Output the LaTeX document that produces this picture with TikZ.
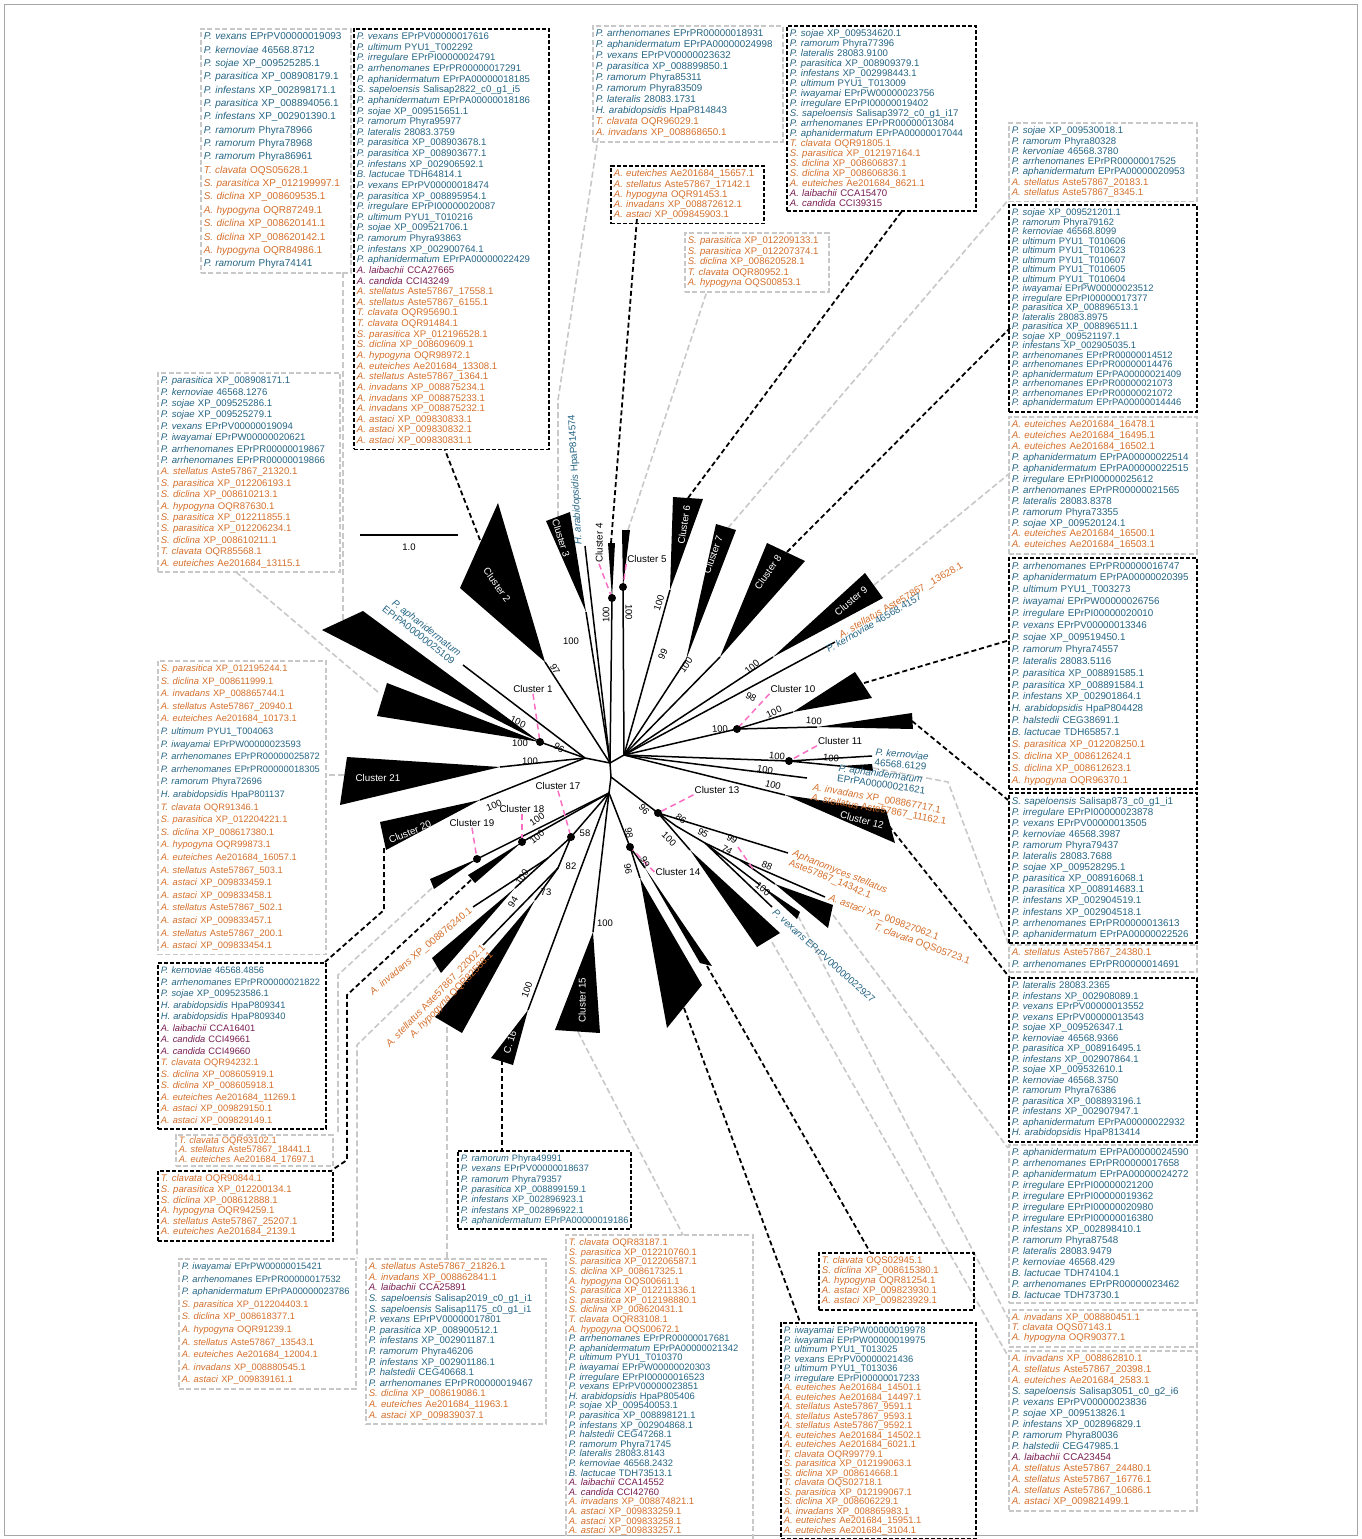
\documentclass[tikz,border=0pt]{standalone}
\usepackage{fontspec}
\setmainfont{Liberation Sans}
\usetikzlibrary{calc}
\definecolor{peroblue}{RGB}{36,100,132}
\definecolor{saprorange}{RGB}{212,110,42}
\definecolor{albupurple}{RGB}{120,28,80}
\definecolor{pinkc}{RGB}{250,110,195}
\definecolor{boxgrey}{RGB}{200,200,200}
\newcommand{\pero}[2]{\mbox{\color{peroblue}\textit{#1} #2}}
\newcommand{\sapr}[2]{\mbox{\color{saprorange}\textit{#1} #2}}
\newcommand{\albu}[2]{\mbox{\color{albupurple}\textit{#1} #2}}
\tikzset{
  br/.style={line width=1.5pt},
  clin/.style={text=white,font=\fontsize{9.8}{11}\selectfont,inner sep=0pt},
  clout/.style={font=\fontsize{9.8}{11}\selectfont,inner sep=1pt},
  bs/.style={font=\fontsize{9.5}{11}\selectfont,inner sep=0pt},
  dot/.style={circle,fill=black,minimum size=8pt,inner sep=0pt},
  pk/.style={draw=pinkc,line width=1.5pt,dash pattern=on 6pt off 4pt},
  kcon/.style={draw=black,line width=1.8pt,dash pattern=on 5pt off 3pt},
  gcon/.style={draw=boxgrey,line width=1.6pt,dash pattern=on 6pt off 3pt},
  lst/.style n args={3}{anchor=north west,align=left,inner xsep=3pt,inner ysep=4pt,
    text width=#1,font=\fontsize{#2}{#3}\selectfont},
  kbox/.style n args={3}{lst={#1}{#2}{#3},draw=black,line width=1.8pt,dash pattern=on 4pt off 2pt},
  gbox/.style n args={3}{lst={#1}{#2}{#3},draw=boxgrey,line width=1.6pt,dash pattern=on 5pt off 2.5pt},
  leaf/.style={font=\fontsize{9.8}{10.4}\selectfont,inner sep=0pt},
}

\begin{document}
\begin{tikzpicture}[x=1pt,y=-1pt]
\useasboundingbox (0,0) rectangle (1361,1539);
\draw[gray!70,line width=0.8pt] (4,4) rectangle (1357,1535);

% connectors to the lists
\foreach \i/\ax/\ay/\bx/\by in {1/343/620/343/272,2/378/692/236/572,3/344/775/325/775,
  4/628/530/707/291,5/728/528/1010/198,6/874/585/1010/473,7/833/915/1008/1148,
  8/798/916/1008/1318,9/772/942/1008/1356,10/578/1032/683/1235,11/447/1027/447/1258}{
  \coordinate (ga\i) at (\ax,\ay);
  \coordinate (gb\i) at (\bx,\by);
  \draw[gcon] (ga\i) -- (gb\i);
}
\coordinate (ga12) at (558,517); \coordinate (gk12) at (558,400); \coordinate (gb12) at (598,138);
\coordinate (ga13) at (873,768); \coordinate (gk13) at (948,782); \coordinate (gb13) at (1010,948);
\coordinate (ga14) at (432,888); \coordinate (gk14) at (338,975); \coordinate (gb14) at (338,1134);
\coordinate (ga15) at (437,967); \coordinate (gk15) at (357,1045); \coordinate (gb15) at (357,1258);
\draw[gcon] (ga12) -- (gk12) -- (gb12);
\draw[gcon] (ga13) -- (gk13) -- (gb13);
\draw[gcon] (ga14) -- (gk14) -- (gb14);
\draw[gcon] (ga15) -- (gk15) -- (gb15);

\foreach \i/\ax/\ay/\bx/\by in {1/480/540/445/450,2/611/543/637/218,3/688/498/902/211,
  4/787/552/1010/328,5/864/683/1010/640,6/912/721/1008/800,7/889/826/1010/978,
  8/684/1008/800/1322,9/707/966/870/1252,10/502/1060/502/1150}{
  \coordinate (ka\i) at (\ax,\ay);
  \coordinate (kb\i) at (\bx,\by);
  \draw[kcon] (ka\i) -- (kb\i);
}
\coordinate (ka11) at (471,880); \coordinate (kk11) at (347,995); \coordinate (kl11) at (347,1160); \coordinate (kb11) at (332,1170);
\coordinate (ka12) at (384,848); \coordinate (kk12) at (384,910); \coordinate (kb12) at (325,962);
\draw[kcon] (ka11) -- (kk11) -- (kl11) -- (kb11);
\draw[kcon] (ka12) -- (kk12) -- (kb12);

% tree
\coordinate (hL) at (610,763); \coordinate (hR) at (624,755);
\coordinate (hC) at (611,777); \coordinate (hD) at (609,793); \coordinate (n1) at (585,758);
\coordinate (c1u1) at (322,630); \coordinate (c1u2) at (363,611); \coordinate (d1) at (540,742);
\coordinate (c1l1) at (387,683); \coordinate (c1l2) at (377,716); \coordinate (aph) at (463,665);
\coordinate (c2a) at (545,662); \coordinate (c2b) at (498,503); \coordinate (c2c) at (460,588);
\coordinate (c3a) at (586,612); \coordinate (c3b) at (546,521); \coordinate (c3c) at (570,512);
\coordinate (hpa) at (585,546);
\coordinate (d4) at (612,598); \coordinate (c4b) at (608,543); \coordinate (c4c) at (615,543);
\coordinate (d5) at (623,587); \coordinate (c5b) at (622,530); \coordinate (c5c) at (630,530);
\coordinate (c6a) at (670,590); \coordinate (c6b) at (673,497); \coordinate (c6c) at (703,499);
\coordinate (c7a) at (686,660); \coordinate (c7b) at (716,524); \coordinate (c7c) at (736,530);
\coordinate (c8a) at (720,657); \coordinate (c8b) at (767,543); \coordinate (c8c) at (805,561);
\coordinate (c9a) at (773,657); \coordinate (c9b) at (865,573); \coordinate (c9c) at (883,598);
\coordinate (lf9) at (835,642);
\coordinate (d10) at (737,729); \coordinate (c10ua) at (793,712); \coordinate (c10ub) at (855,672);
\coordinate (c10uc) at (872,698); \coordinate (c10la) at (817,727); \coordinate (c10lb) at (912,713);
\coordinate (c10lc) at (913,729);
\coordinate (d11) at (789,761); \coordinate (lf11) at (872,756); \coordinate (c11a) at (840,766);
\coordinate (c11b) at (872,764); \coordinate (c11c) at (873,771);
\coordinate (lf12) at (807,778);
\coordinate (c12a) at (785,795); \coordinate (c12b) at (886,810); \coordinate (c12c) at (895,843);
\coordinate (d13) at (658,813); \coordinate (lf13) at (788,853); \coordinate (n13a) at (676,826);
\coordinate (c13ba) at (690,850); \coordinate (c13bb) at (780,933); \coordinate (c13bc) at (757,947);
\coordinate (n13b) at (705,843); \coordinate (lf13v) at (772,907);
\coordinate (c13ta) at (760,885); \coordinate (c13tb) at (800,912); \coordinate (c13tc) at (797,919);
\coordinate (n13c) at (740,860); \coordinate (lf13a) at (825,897);
\coordinate (c13sa) at (775,884); \coordinate (c13sb) at (833,905); \coordinate (c13sc) at (828,928);
\coordinate (d14) at (630,847); \coordinate (c14ba) at (640,878); \coordinate (c14bb) at (702,985);
\coordinate (c14bc) at (667,1028); \coordinate (c14ta) at (645,868); \coordinate (c14tb) at (700,963);
\coordinate (c14tc) at (712,966);
\coordinate (c15a) at (593,932); \coordinate (c15b) at (600,1033); \coordinate (c15c) at (555,1030);
\coordinate (c16a) at (528,1010); \coordinate (c16b) at (513,1065); \coordinate (c16c) at (491,1058);
\coordinate (d17) at (571,837); \coordinate (n17a) at (548,858); \coordinate (lf17) at (473,907);
\coordinate (c17ta) at (515,888); \coordinate (c17tb) at (441,973); \coordinate (c17tc) at (432,958);
\coordinate (n17b) at (558,868); \coordinate (lf17b) at (483,945);
\coordinate (c17ba) at (535,900); \coordinate (c17bb) at (462,1033); \coordinate (c17bc) at (435,1017);
\coordinate (d18) at (522,842); \coordinate (c18b) at (468,875); \coordinate (c18c) at (475,883);
\coordinate (d19) at (477,859); \coordinate (c19b) at (430,879); \coordinate (c19c) at (434,889);
\coordinate (c20a) at (480,800); \coordinate (c20b) at (380,822); \coordinate (c20c) at (386,850);
\coordinate (c21a) at (500,767); \coordinate (c21b) at (347,757); \coordinate (c21c) at (340,805);

\draw[br] (n1) -- (hL) -- (hR) (hL) -- (hC) -- (hD);
\foreach \t in {c2a,c3a,hpa,d4} \draw[br] (hL) -- (\t);
\foreach \t in {d5,c6a,c7a,c8a,c9a,lf9,d10,d11,lf12,c12a} \draw[br] (hR) -- (\t);
\foreach \t in {d1,aph,c21a,c20a} \draw[br] (n1) -- (\t);
\foreach \t in {d14,c15a,c16a,d17,d18,d19} \draw[br] (hD) -- (\t);
\draw[br] (hC) -- (d13);
\draw[br] (c10ua) -- (d10) -- (c10la);
\draw[br] (lf11) -- (d11) -- (c11a);
\draw[br] (lf13) -- (d13) -- (n13a) -- (n13b) -- (n13c) -- (lf13a);
\draw[br] (d13) -- (c13ba) (n13b) -- (lf13v) (n13b) -- (c13ta) (n13c) -- (c13sa);
\draw[br] (c14ba) -- (d14) -- (c14ta);
\draw[br] (lf17) -- (n17a) -- (d17) -- (n17b) -- (lf17b);
\draw[br] (n17a) -- (c17ta) (n17b) -- (c17ba);

\foreach \a/\b/\c in {c1u1/c1u2/d1,c1l1/c1l2/d1,c2a/c2b/c2c,c3a/c3b/c3c,d4/c4b/c4c,d5/c5b/c5c,
  c6a/c6b/c6c,c7a/c7b/c7c,c8a/c8b/c8c,c9a/c9b/c9c,c10ua/c10ub/c10uc,c10la/c10lb/c10lc,
  c11a/c11b/c11c,c12a/c12b/c12c,c13ba/c13bb/c13bc,c13ta/c13tb/c13tc,c13sa/c13sb/c13sc,
  c14ba/c14bb/c14bc,c14ta/c14tb/c14tc,c15a/c15b/c15c,c16a/c16b/c16c,c17ta/c17tb/c17tc,
  c17ba/c17bb/c17bc,d18/c18b/c18c,d19/c19b/c19c,c20a/c20b/c20c,c21a/c21b/c21c}
  \fill (\a) -- (\b) -- (\c) -- cycle;

% clusters
\node[clin,rotate=-55] (lc2) at (497,585) {Cluster 2};
\node[clin,rotate=-73] (lc3) at (561,538) {Cluster 3};
\node[clin,rotate=81] (lc6) at (684,525) {Cluster 6};
\node[clin,rotate=70] (lc7) at (713,555) {Cluster 7};
\node[clin,rotate=55] (lc8) at (768,572) {Cluster 8};
\node[clin,rotate=40] (lc9) at (851,601) {Cluster 9};
\node[clin,rotate=-15] (lc12) at (862,820) {Cluster 12};
\node[clin,rotate=90] (lc15) at (582,1000) {Cluster 15};
\node[clin,rotate=72] (lc16) at (510,1042) {C. 16};
\node[clin,rotate=22] (lc20) at (410,832) {Cluster 20};
\node[clin] (lc21) at (378,778) {Cluster 21};
\node[clout] (lc1) at (533,689) {Cluster 1};
\node[clout,rotate=90] (lc4) at (599,543) {Cluster 4};
\node[clout] (lc5) at (647,559) {Cluster 5};
\node[clout] (lc10) at (793,689) {Cluster 10};
\node[clout] (lc11) at (840,741) {Cluster 11};
\node[clout] (lc13) at (717,790) {Cluster 13};
\node[clout] (lc14) at (678,872) {Cluster 14};
\node[clout] (lc17) at (558,786) {Cluster 17};
\node[clout] (lc18) at (522,809) {Cluster 18};
\node[clout] (lc19) at (472,823) {Cluster 19};
\coordinate (p13a) at (738,847); \coordinate (p13b) at (755,872);
\draw[pk] (lc1.south) -- (d1);
\draw[pk] (lc4.west) -- (d4);
\draw[pk] (lc5.south west) -- (d5);
\draw[pk] (lc10.south west) -- (d10);
\draw[pk] (lc11.south west) -- (d11);
\draw[pk] (lc13.south west) -- (d13);
\draw[pk] (p13a) -- (p13b);
\draw[pk] (lc14.west) -- (d14);
\draw[pk] (lc17.south) -- (d17);
\draw[pk] (lc18.south) -- (d18);
\draw[pk] (lc19.south) -- (d19);
\foreach \p in {d1,d4,d5,d10,d11,d13,d14,d17,d18,d19} \node[dot] (dot-\p) at (\p) {};

% support values
\foreach \x/\y/\a/\v [count=\i] in {518/722/-25/100,520/743/0/100,559/748/-35/96,555/669/-60/97,
  571/641/0/100,606/615/90/100,629/612/-90/100,659/603/72/100,663/654/65/99,686/665/55/100,
  752/667/40/100,751/697/-30/98,720/729/5/100,774/712/25/100,814/721/-3/100,777/756/-5/100,
  831/758/-5/100,765/770/-10/100,773/785/-15/100,644/809/-50/96,681/819/-35/86,669/839/-45/100,
  703/833/-30/95,732/839/-30/99,727/850/-30/74,767/866/-25/88,763/889/-40/100,629/833/-80/98,
  628/869/-80/96,645/862/-65/99,605/923/0/100,527/990/70/100,585/833/0/58,571/866/0/82,
  546/892/0/73,513/902/60/94,522/877/55/100,537/819/35/100,537/837/40/100,494/805/22/100,
  530/761/0/100}
  \node[bs,rotate=\a] (bs\i) at (\x,\y) {\v};

% leaves
\node[leaf,text=peroblue,rotate=93,anchor=west] (lhpa) at (579,545) {\textit{H. arabidopsidis} HpaP814574};
\node[leaf,text=peroblue,rotate=-38,anchor=east,align=right] (laph) at (457,658) {\textit{P. aphanidermatum}\\EPrPA00000025109};
\node[leaf,text=saprorange,rotate=30,anchor=west] (lf9a) at (840,636) {\textit{A. stellatus} Aste57867 \_13628.1};
\node[leaf,text=peroblue,rotate=30,anchor=west] (lf9b) at (827,650) {\textit{P. kernoviae} 46568.4157};
\node[leaf,text=peroblue,rotate=-5,anchor=west,align=left] (llf11) at (875,757) {\textit{P. kernoviae}\\46568.6129};
\node[leaf,text=peroblue,rotate=-8,anchor=west,align=left] (lc11t) at (838,773) {\textit{P. aphanidermatum}\\EPrPA00000021621};
\node[leaf,text=saprorange,rotate=-10,anchor=west,align=left] (llf12) at (812,793) {\textit{A. invadans} XP\_008867717.1\\\textit{A. stellatus} Aste57867\_11162.1};
\node[leaf,text=saprorange,rotate=-22,anchor=west,align=left] (llf13) at (791,858) {\textit{Aphanomyces stellatus}\\Aste57867\_14342.1};
\node[leaf,text=saprorange,rotate=-20,anchor=west] (llf13a) at (829,898) {\textit{A. astaci} XP\_009827062.1};
\node[leaf,text=saprorange,rotate=-20,anchor=west] (llf13b) at (874,927) {\textit{T. clavata} OQS05723.1};
\node[leaf,text=peroblue,rotate=-42,anchor=west] (llf13v) at (774,911) {\textit{P. vexans} EPrPV00000022927};
\node[leaf,text=saprorange,rotate=40,anchor=east] (llf17) at (471,910) {\textit{A. invadans} XP\_008876240.1};
\node[leaf,text=saprorange,rotate=46,anchor=east,align=right] (llf17b) at (488,950) {\textit{A. stellatus} Aste57867\_22002.1\\\textit{A. hypogyna} OQR82588.1};

% scale
\coordinate (sb1) at (360,535); \coordinate (sb2) at (458,535);
\draw[br] (sb1) -- (sb2);
\node[bs] (sbl) at (409,547) {1.0};

% lists
\node[gbox={144pt}{10}{13.35}] (bx1) at (200,28) {
\pero{P. vexans}{EPrPV00000019093}\\
\pero{P. kernoviae}{46568.8712}\\
\pero{P. sojae}{XP\_009525285.1}\\
\pero{P. parasitica}{XP\_008908179.1}\\
\pero{P. infestans}{XP\_002898171.1}\\
\pero{P. parasitica}{XP\_008894056.1}\\
\pero{P. infestans}{XP\_002901390.1}\\
\pero{P. ramorum}{Phyra78966}\\
\pero{P. ramorum}{Phyra78968}\\
\pero{P. ramorum}{Phyra86961}\\
\sapr{T. clavata}{OQS05628.1}\\
\sapr{S. parasitica}{XP\_012199997.1}\\
\sapr{S. diclina}{XP\_008609535.1}\\
\sapr{A. hypogyna}{OQR87249.1}\\
\sapr{S. diclina}{XP\_008620141.1}\\
\sapr{S. diclina}{XP\_008620142.1}\\
\sapr{A. hypogyna}{OQR84986.1}\\
\pero{P. ramorum}{Phyra74141}};
\node[kbox={189pt}{9.6}{10.63}] (bx2) at (353,28) {
\pero{P. vexans}{EPrPV00000017616}\\
\pero{P. ultimum}{PYU1\_T002292}\\
\pero{P. irregulare}{EPrPI00000024791}\\
\pero{P. arrhenomanes}{EPrPR00000017291}\\
\pero{P. aphanidermatum}{EPrPA00000018185}\\
\pero{S. sapeloensis}{Salisap2822\_c0\_g1\_i5}\\
\pero{P. aphanidermatum}{EPrPA00000018186}\\
\pero{P. sojae}{XP\_009515651.1}\\
\pero{P. ramorum}{Phyra95977}\\
\pero{P. lateralis}{28083.3759}\\
\pero{P. parasitica}{XP\_008903678.1}\\
\pero{P. parasitica}{XP\_008903677.1}\\
\pero{P. infestans}{XP\_002906592.1}\\
\pero{B. lactucae}{TDH64814.1}\\
\pero{P. vexans}{EPrPV00000018474}\\
\pero{P. parasitica}{XP\_008895954.1}\\
\pero{P. irregulare}{EPrPI00000020087}\\
\pero{P. ultimum}{PYU1\_T010216}\\
\pero{P. sojae}{XP\_009521706.1}\\
\pero{P. ramorum}{Phyra93863}\\
\pero{P. infestans}{XP\_002900764.1}\\
\pero{P. aphanidermatum}{EPrPA00000022429}\\
\albu{A. laibachii}{CCA27665}\\
\albu{A. candida}{CCI43249}\\
\sapr{A. stellatus}{Aste57867\_17558.1}\\
\sapr{A. stellatus}{Aste57867\_6155.1}\\
\sapr{T. clavata}{OQR95690.1}\\
\sapr{T. clavata}{OQR91484.1}\\
\sapr{S. parasitica}{XP\_012196528.1}\\
\sapr{S. diclina}{XP\_008609609.1}\\
\sapr{A. hypogyna}{OQR98972.1}\\
\sapr{A. euteiches}{Ae201684\_13308.1}\\
\sapr{A. stellatus}{Aste57867\_1364.1}\\
\sapr{A. invadans}{XP\_008875234.1}\\
\sapr{A. invadans}{XP\_008875233.1}\\
\sapr{A. invadans}{XP\_008875232.1}\\
\sapr{A. astaci}{XP\_009830833.1}\\
\sapr{A. astaci}{XP\_009830832.1}\\
\sapr{A. astaci}{XP\_009830831.1}};
\node[gbox={184pt}{9.8}{11}] (bx3) at (592,25) {
\pero{P. arrhenomanes}{EPrPR00000018931}\\
\pero{P. aphanidermatum}{EPrPA00000024998}\\
\pero{P. vexans}{EPrPV00000023632}\\
\pero{P. parasitica}{XP\_008899850.1}\\
\pero{P. ramorum}{Phyra85311}\\
\pero{P. ramorum}{Phyra83509}\\
\pero{P. lateralis}{28083.1731}\\
\pero{H. arabidopsidis}{HpaP814843}\\
\sapr{T. clavata}{OQR96029.1}\\
\sapr{A. invadans}{XP\_008868650.1}};
\node[kbox={183pt}{9.6}{10}] (bx4) at (786,25) {
\pero{P. sojae}{XP\_009534620.1}\\
\pero{P. ramorum}{Phyra77396}\\
\pero{P. lateralis}{28083.9100}\\
\pero{P. parasitica}{XP\_008909379.1}\\
\pero{P. infestans}{XP\_002998443.1}\\
\pero{P. ultimum}{PYU1\_T013009}\\
\pero{P. iwayamai}{EPrPW00000023756}\\
\pero{P. irregulare}{EPrPI00000019402}\\
\pero{S. sapeloensis}{Salisap3972\_c0\_g1\_i17}\\
\pero{P. arrhenomanes}{EPrPR00000013084}\\
\pero{P. aphanidermatum}{EPrPA00000017044}\\
\sapr{T. clavata}{OQR91805.1}\\
\sapr{S. parasitica}{XP\_012197164.1}\\
\sapr{S. diclina}{XP\_008606837.1}\\
\sapr{S. diclina}{XP\_008606836.1}\\
\sapr{A. euteiches}{Ae201684\_8621.1}\\
\albu{A. laibachii}{CCA15470}\\
\albu{A. candida}{CCI39315}};
\node[kbox={147pt}{9.6}{10.2}] (bx5) at (610,165) {
\sapr{A. euteiches}{Ae201684\_15657.1}\\
\sapr{A. stellatus}{Aste57867\_17142.1}\\
\sapr{A. hypogyna}{OQR91453.1}\\
\sapr{A. invadans}{XP\_008872612.1}\\
\sapr{A. astaci}{XP\_009845903.1}};
\node[gbox={138pt}{9.6}{10.5}] (bx6) at (684,232) {
\sapr{S. parasitica}{XP\_012209133.1}\\
\sapr{S. parasitica}{XP\_012207374.1}\\
\sapr{S. diclina}{XP\_008620528.1}\\
\sapr{T. clavata}{OQR80952.1}\\
\sapr{A. hypogyna}{OQS00853.1}};
\node[gbox={182pt}{9.6}{10.3}] (bx7) at (1008,122) {
\pero{P. sojae}{XP\_009530018.1}\\
\pero{P. ramorum}{Phyra80328}\\
\pero{P. kervoniae}{46568.3780}\\
\pero{P. arrhenomanes}{EPrPR00000017525}\\
\pero{P. aphanidermatum}{EPrPA00000020953}\\
\sapr{A. stellatus}{Aste57867\_20183.1}\\
\sapr{A. stellatus}{Aste57867\_8345.1}};
\node[kbox={182pt}{9.4}{9.5}] (bx8) at (1008,204) {
\pero{P. sojae}{XP\_009521201.1}\\
\pero{P. ramorum}{Phyra79162}\\
\pero{P. kernoviae}{46568.8099}\\
\pero{P. ultimum}{PYU1\_T010606}\\
\pero{P. ultimum}{PYU1\_T010623}\\
\pero{P. ultimum}{PYU1\_T010607}\\
\pero{P. ultimum}{PYU1\_T010605}\\
\pero{P. ultimum}{PYU1\_T010604}\\
\pero{P. iwayamai}{EPrPW00000023512}\\
\pero{P. irregulare}{EPrPI00000017377}\\
\pero{P. parasitica}{XP\_008896513.1}\\
\pero{P. lateralis}{28083.8975}\\
\pero{P. parasitica}{XP\_008896511.1}\\
\pero{P. sojae}{XP\_009521197.1}\\
\pero{P. infestans}{XP\_002905035.1}\\
\pero{P. arrhenomanes}{EPrPR00000014512}\\
\pero{P. arrhenomanes}{EPrPR00000014476}\\
\pero{P. aphanidermatum}{EPrPA00000021409}\\
\pero{P. arrhenomanes}{EPrPR00000021073}\\
\pero{P. arrhenomanes}{EPrPR00000021072}\\
\pero{P. aphanidermatum}{EPrPA00000014446}};
\node[gbox={182pt}{9.8}{10.9}] (bx9) at (1008,416) {
\sapr{A. euteiches}{Ae201684\_16478.1}\\
\sapr{A. euteiches}{Ae201684\_16495.1}\\
\sapr{A. euteiches}{Ae201684\_16502.1}\\
\pero{P. aphanidermatum}{EPrPA00000022514}\\
\pero{P. aphanidermatum}{EPrPA00000022515}\\
\pero{P. irregulare}{EPrPI00000025612}\\
\pero{P. arrhenomanes}{EPrPR00000021565}\\
\pero{P. lateralis}{28083.8378}\\
\pero{P. ramorum}{Phyra73355}\\
\pero{P. sojae}{XP\_009520124.1}\\
\sapr{A. euteiches}{Ae201684\_16500.1}\\
\sapr{A. euteiches}{Ae201684\_16503.1}};
\node[kbox={182pt}{9.8}{11.9}] (bx10) at (1008,557) {
\pero{P. arrhenomanes}{EPrPR00000016747}\\
\pero{P. aphanidermatum}{EPrPA00000020395}\\
\pero{P. ultimum}{PYU1\_T003273}\\
\pero{P. iwayamai}{EPrPW00000026756}\\
\pero{P. irregulare}{EPrPI00000020010}\\
\pero{P. vexans}{EPrPV00000013346}\\
\pero{P. sojae}{XP\_009519450.1}\\
\pero{P. ramorum}{Phyra74557}\\
\pero{P. lateralis}{28083.5116}\\
\pero{P. parasitica}{XP\_008891585.1}\\
\pero{P. parasitica}{XP\_008891584.1}\\
\pero{P. infestans}{XP\_002901864.1}\\
\pero{H. arabidopsidis}{HpaP804428}\\
\pero{P. halstedii}{CEG38691.1}\\
\pero{B. lactucae}{TDH65857.1}\\
\sapr{S. parasitica}{XP\_012208250.1}\\
\sapr{S. diclina}{XP\_008612624.1}\\
\sapr{S. diclina}{XP\_008612623.1}\\
\sapr{A. hypogyna}{OQR96370.1}};
\node[kbox={182pt}{9.8}{11.1}] (bx11) at (1008,792) {
\pero{S. sapeloensis}{Salisap873\_c0\_g1\_i1}\\
\pero{P. irregulare}{EPrPI00000023878}\\
\pero{P. vexans}{EPrPV00000013505}\\
\pero{P. kernoviae}{46568.3987}\\
\pero{P. ramorum}{Phyra79437}\\
\pero{P. lateralis}{28083.7688}\\
\pero{P. sojae}{XP\_009528295.1}\\
\pero{P. parasitica}{XP\_008916068.1}\\
\pero{P. parasitica}{XP\_008914683.1}\\
\pero{P. infestans}{XP\_002904519.1}\\
\pero{P. infestans}{XP\_002904518.1}\\
\pero{P. arrhenomanes}{EPrPR00000013613}\\
\pero{P. aphanidermatum}{EPrPA00000022526}};
\node[gbox={182pt}{9.8}{12}] (bx12) at (1008,944) {
\sapr{A. stellatus}{Aste57867\_24380.1}\\
\pero{P. arrhenomanes}{EPrPR00000014691}};
\node[kbox={182pt}{9.6}{10.5}] (bx13) at (1008,977) {
\pero{P. lateralis}{28083.2365}\\
\pero{P. infestans}{XP\_002908089.1}\\
\pero{P. vexans}{EPrPV00000013552}\\
\pero{P. vexans}{EPrPV00000013543}\\
\pero{P. sojae}{XP\_009526347.1}\\
\pero{P. kernoviae}{46568.9366}\\
\pero{P. parasitica}{XP\_008916495.1}\\
\pero{P. infestans}{XP\_002907864.1}\\
\pero{P. sojae}{XP\_009532610.1}\\
\pero{P. kernoviae}{46568.3750}\\
\pero{P. ramorum}{Phyra76386}\\
\pero{P. parasitica}{XP\_008893196.1}\\
\pero{P. infestans}{XP\_002907947.1}\\
\pero{P. aphanidermatum}{EPrPA00000022932}\\
\pero{H. arabidopsidis}{HpaP813414}};
\node[gbox={182pt}{9.8}{11}] (bx14) at (1008,1144) {
\pero{P. aphanidermatum}{EPrPA00000024590}\\
\pero{P. arrhenomanes}{EPrPR00000017658}\\
\pero{P. aphanidermatum}{EPrPA00000024272}\\
\pero{P. irregulare}{EPrPI00000021200}\\
\pero{P. irregulare}{EPrPI00000019362}\\
\pero{P. irregulare}{EPrPI00000020980}\\
\pero{P. irregulare}{EPrPI00000016380}\\
\pero{P. infestans}{XP\_002898410.1}\\
\pero{P. ramorum}{Phyra87548}\\
\pero{P. lateralis}{28083.9479}\\
\pero{P. kernoviae}{46568.429}\\
\pero{B. lactucae}{TDH74104.1}\\
\pero{P. arrhenomanes}{EPrPR00000023462}\\
\pero{B. lactucae}{TDH73730.1}};
\node[gbox={182pt}{9.6}{10}] (bx15) at (1008,1309) {
\sapr{A. invadans}{XP\_008880451.1}\\
\sapr{T. clavata}{OQS07143.1}\\
\sapr{A. hypogyna}{OQR90377.1}};
\node[gbox={182pt}{9.8}{11}] (bx16) at (1008,1350) {
\sapr{A. invadans}{XP\_008862810.1}\\
\sapr{A. stellatus}{Aste57867\_20398.1}\\
\sapr{A. euteiches}{Ae201684\_2583.1}\\
\pero{S. sapeloensis}{Salisap3051\_c0\_g2\_i6}\\
\pero{P. vexans}{EPrPV00000023836}\\
\pero{P. sojae}{XP\_009513826.1}\\
\pero{P. infestans}{XP\_002896829.1}\\
\pero{P. ramorum}{Phyra80036}\\
\pero{P. halstedii}{CEG47985.1}\\
\albu{A. laibachii}{CCA23454}\\
\sapr{A. stellatus}{Aste57867\_24480.1}\\
\sapr{A. stellatus}{Aste57867\_16776.1}\\
\sapr{A. stellatus}{Aste57867\_10686.1}\\
\sapr{A. astaci}{XP\_009821499.1}};
\node[kbox={149pt}{9.6}{10}] (bx17) at (818,1252) {
\sapr{T. clavata}{OQS02945.1}\\
\sapr{S. diclina}{XP\_008615380.1}\\
\sapr{A. hypogyna}{OQR81254.1}\\
\sapr{A. astaci}{XP\_009823930.1}\\
\sapr{A. astaci}{XP\_009823929.1}};
\node[kbox={189pt}{9.4}{9.5}] (bx18) at (780,1322) {
\pero{P. iwayamai}{EPrPW00000019978}\\
\pero{P. iwayamai}{EPrPW00000019975}\\
\pero{P. ultimum}{PYU1\_T013025}\\
\pero{P. vexans}{EPrPV00000021436}\\
\pero{P. ultimum}{PYU1\_T013036}\\
\pero{P. irregulare}{EPrPI00000017233}\\
\sapr{A. euteiches}{Ae201684\_14501.1}\\
\sapr{A. euteiches}{Ae201684\_14497.1}\\
\sapr{A. stellatus}{Aste57867\_9591.1}\\
\sapr{A. stellatus}{Aste57867\_9593.1}\\
\sapr{A. stellatus}{Aste57867\_9592.1}\\
\sapr{A. euteiches}{Ae201684\_14502.1}\\
\sapr{A. euteiches}{Ae201684\_6021.1}\\
\sapr{T. clavata}{OQR99779.1}\\
\sapr{S. parasitica}{XP\_012199063.1}\\
\sapr{S. diclina}{XP\_008614668.1}\\
\sapr{T. clavata}{OQS02718.1}\\
\sapr{S. parasitica}{XP\_012199067.1}\\
\sapr{S. diclina}{XP\_008606229.1}\\
\sapr{A. invadans}{XP\_008865983.1}\\
\sapr{A. euteiches}{Ae201684\_15951.1}\\
\sapr{A. euteiches}{Ae201684\_3104.1}};
\node[gbox={181pt}{9.4}{9.6}] (bx19) at (565,1234) {
\sapr{T. clavata}{OQR83187.1}\\
\sapr{S. parasitica}{XP\_012210760.1}\\
\sapr{S. parasitica}{XP\_012206587.1}\\
\sapr{S. diclina}{XP\_008617325.1}\\
\sapr{A. hypogyna}{OQS00661.1}\\
\sapr{S. parasitica}{XP\_012211336.1}\\
\sapr{S. parasitica}{XP\_012198880.1}\\
\sapr{S. diclina}{XP\_008620431.1}\\
\sapr{T. clavata}{OQR83108.1}\\
\sapr{A. hypogyna}{OQS00672.1}\\
\pero{P. arrhenomanes}{EPrPR00000017681}\\
\pero{P. aphanidermatum}{EPrPA00000021342}\\
\pero{P. ultimum}{PYU1\_T010370}\\
\pero{P. iwayamai}{EPrPW00000020303}\\
\pero{P. irregulare}{EPrPI00000016523}\\
\pero{P. vexans}{EPrPV00000023851}\\
\pero{H. arabidopsidis}{HpaP805406}\\
\pero{P. sojae}{XP\_009540053.1}\\
\pero{P. parasitica}{XP\_008898121.1}\\
\pero{P. infestans}{XP\_002904868.1}\\
\pero{P. halstedii}{CEG47268.1}\\
\pero{P. ramorum}{Phyra71745}\\
\pero{P. lateralis}{28083.8143}\\
\pero{P. kernoviae}{46568.2432}\\
\pero{B. lactucae}{TDH73513.1}\\
\albu{A. laibachii}{CCA14552}\\
\albu{A. candida}{CCI42760}\\
\sapr{A. invadans}{XP\_008874821.1}\\
\sapr{A. astaci}{XP\_009833259.1}\\
\sapr{A. astaci}{XP\_009833258.1}\\
\sapr{A. astaci}{XP\_009833257.1}};
\node[kbox={167pt}{9.3}{10.3}] (bx20) at (457,1150) {
\pero{P. ramorum}{Phyra49991}\\
\pero{P. vexans}{EPrPV00000018637}\\
\pero{P. ramorum}{Phyra79357}\\
\pero{P. parasitica}{XP\_008899159.1}\\
\pero{P. infestans}{XP\_002896923.1}\\
\pero{P. infestans}{XP\_002896922.1}\\
\pero{P. aphanidermatum}{EPrPA00000019186}};
\node[gbox={174pt}{9.6}{10.6}] (bx21) at (365,1258) {
\sapr{A. stellatus}{Aste57867\_21826.1}\\
\sapr{A. invadans}{XP\_008862841.1}\\
\albu{A. laibachii}{CCA25891}\\
\pero{S. sapeloensis}{Salisap2019\_c0\_g1\_i1}\\
\pero{S. sapeloensis}{Salisap1175\_c0\_g1\_i1}\\
\pero{P. vexans}{EPrPV00000017801}\\
\pero{P. parasitica}{XP\_008900512.1}\\
\pero{P. infestans}{XP\_002901187.1}\\
\pero{P. ramorum}{Phyra46206}\\
\pero{P. infestans}{XP\_002901186.1}\\
\pero{P. halstedii}{CEG40668.1}\\
\pero{P. arrhenomanes}{EPrPR00000019467}\\
\sapr{S. diclina}{XP\_008619086.1}\\
\sapr{A. euteiches}{Ae201684\_11963.1}\\
\sapr{A. astaci}{XP\_009839037.1}};
\node[gbox={171pt}{9.3}{12.6}] (bx22) at (178,1258) {
\pero{P. iwayamai}{EPrPW00000015421}\\
\pero{P. arrhenomanes}{EPrPR00000017532}\\
\pero{P. aphanidermatum}{EPrPA00000023786}\\
\sapr{S. parasitica}{XP\_012204403.1}\\
\sapr{S. diclina}{XP\_008618377.1}\\
\sapr{A. hypogyna}{OQR91239.1}\\
\sapr{A. stellatus}{Aste57867\_13543.1}\\
\sapr{A. euteiches}{Ae201684\_12004.1}\\
\sapr{A. invadans}{XP\_008880545.1}\\
\sapr{A. astaci}{XP\_009839161.1}};
\node[kbox={169pt}{9.6}{10.6}] (bx23) at (157,1170) {
\sapr{T. clavata}{OQR90844.1}\\
\sapr{S. parasitica}{XP\_012200134.1}\\
\sapr{S. diclina}{XP\_008612888.1}\\
\sapr{A. hypogyna}{OQR94259.1}\\
\sapr{A. stellatus}{Aste57867\_25207.1}\\
\sapr{A. euteiches}{Ae201684\_2139.1}};
\node[gbox={151pt}{9.3}{9.3},inner ysep=2pt] (bx24) at (175,1134) {
\sapr{T. clavata}{OQR93102.1}\\
\sapr{A. stellatus}{Aste57867\_18441.1}\\
\sapr{A. euteiches}{Ae201684\_17697.1}};
\node[kbox={162pt}{9.3}{11.5}] (bx25) at (157,962) {
\pero{P. kernoviae}{46568.4856}\\
\pero{P. arrhenomanes}{EPrPR00000021822}\\
\pero{P. sojae}{XP\_009523586.1}\\
\pero{H. arabidopsidis}{HpaP809341}\\
\pero{H. arabidopsidis}{HpaP809340}\\
\albu{A. laibachii}{CCA16401}\\
\albu{A. candida}{CCI49661}\\
\albu{A. candida}{CCI49660}\\
\sapr{T. clavata}{OQR94232.1}\\
\sapr{S. diclina}{XP\_008605919.1}\\
\sapr{S. diclina}{XP\_008605918.1}\\
\sapr{A. euteiches}{Ae201684\_11269.1}\\
\sapr{A. astaci}{XP\_009829150.1}\\
\sapr{A. astaci}{XP\_009829149.1}};
\node[gbox={162pt}{9.3}{12.6}] (bx26) at (157,660) {
\sapr{S. parasitica}{XP\_012195244.1}\\
\sapr{S. diclina}{XP\_008611999.1}\\
\sapr{A. invadans}{XP\_008865744.1}\\
\sapr{A. stellatus}{Aste57867\_20940.1}\\
\sapr{A. euteiches}{Ae201684\_10173.1}\\
\pero{P. ultimum}{PYU1\_T004063}\\
\pero{P. iwayamai}{EPrPW00000023593}\\
\pero{P. arrhenomanes}{EPrPR00000025872}\\
\pero{P. arrhenomanes}{EPrPR00000018305}\\
\pero{P. ramorum}{Phyra72696}\\
\pero{H. arabidopsidis}{HpaP801137}\\
\sapr{T. clavata}{OQR91346.1}\\
\sapr{S. parasitica}{XP\_012204221.1}\\
\sapr{S. diclina}{XP\_008617380.1}\\
\sapr{A. hypogyna}{OQR99873.1}\\
\sapr{A. euteiches}{Ae201684\_16057.1}\\
\sapr{A. stellatus}{Aste57867\_503.1}\\
\sapr{A. astaci}{XP\_009833459.1}\\
\sapr{A. astaci}{XP\_009833458.1}\\
\sapr{A. stellatus}{Aste57867\_502.1}\\
\sapr{A. astaci}{XP\_009833457.1}\\
\sapr{A. stellatus}{Aste57867\_200.1}\\
\sapr{A. astaci}{XP\_009833454.1}};
\node[gbox={176pt}{9.6}{11.4}] (bx27) at (157,372) {
\pero{P. parasitica}{XP\_008908171.1}\\
\pero{P. kernoviae}{46568.1276}\\
\pero{P. sojae}{XP\_009525286.1}\\
\pero{P. sojae}{XP\_009525279.1}\\
\pero{P. vexans}{EPrPV00000019094}\\
\pero{P. iwayamai}{EPrPW00000020621}\\
\pero{P. arrhenomanes}{EPrPR00000019867}\\
\pero{P. arrhenomanes}{EPrPR00000019866}\\
\sapr{A. stellatus}{Aste57867\_21320.1}\\
\sapr{S. parasitica}{XP\_012206193.1}\\
\sapr{S. diclina}{XP\_008610213.1}\\
\sapr{A. hypogyna}{OQR87630.1}\\
\sapr{S. parasitica}{XP\_012211855.1}\\
\sapr{S. parasitica}{XP\_012206234.1}\\
\sapr{S. diclina}{XP\_008610211.1}\\
\sapr{T. clavata}{OQR85568.1}\\
\sapr{A. euteiches}{Ae201684\_13115.1}};
\end{tikzpicture}
\end{document}
